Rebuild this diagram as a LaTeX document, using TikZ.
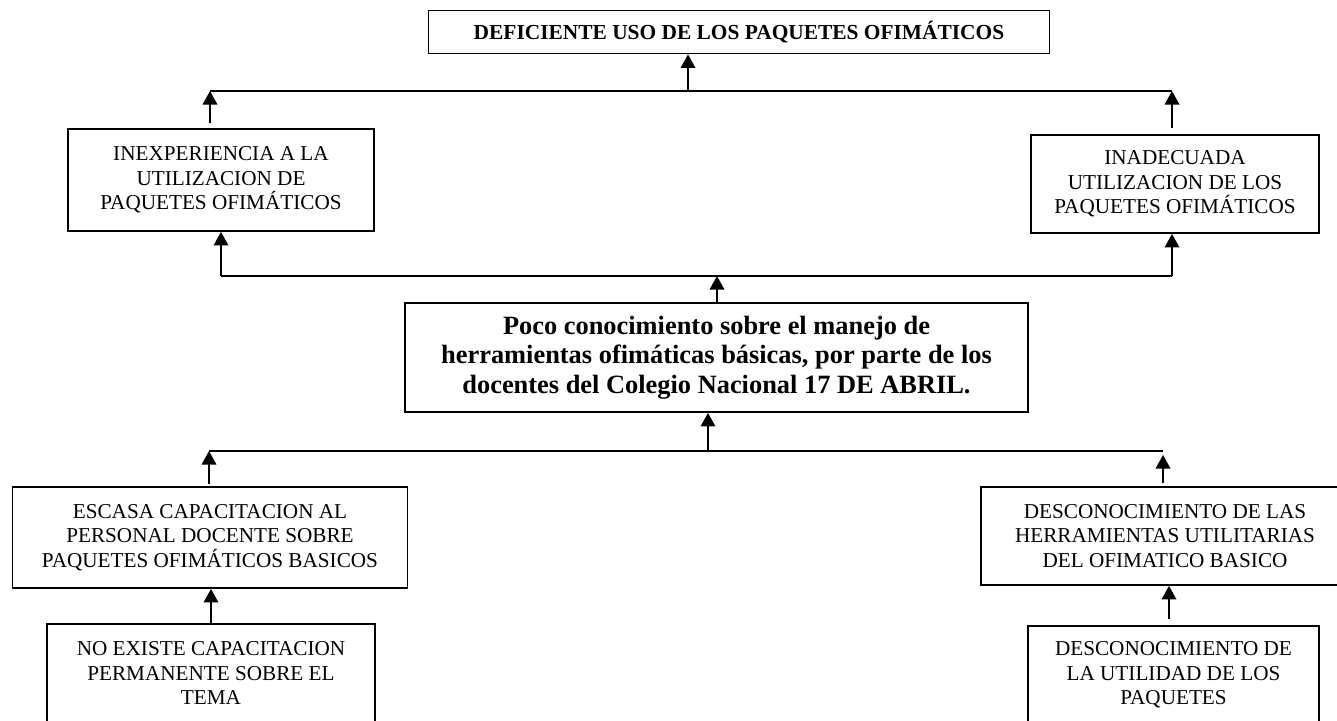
\documentclass[tikz,border=0pt]{standalone}
\usepackage{fontspec}
\setmainfont{Liberation Serif}
\usetikzlibrary{arrows.meta}
\tikzset{
  box/.style={draw, line width=1.8pt, inner sep=0pt, align=center, font=\fontsize{21.2}{24.5}\selectfont},
  boldtop/.style={font=\bfseries\fontsize{21.4}{24}\selectfont},
  boldmain/.style={font=\bfseries\fontsize{26.4}{29.5}\selectfont},
  arr/.style={line width=1.8pt, -{Triangle[width=14.5pt,length=13.5pt]}},
  bus/.style={line width=1.8pt}
}
\begin{document}
\begin{tikzpicture}[x=1pt,y=-1pt]
\clip (0,0) rectangle (1337,720);
\fill[white] (0,0) rectangle (1337,720);

% nodes
\node[box, boldtop, minimum width=621pt, minimum height=43pt] (T) at (739,32) {DEFICIENTE USO DE LOS PAQUETES OFIMÁTICOS};
\node[box, minimum width=306pt, minimum height=102pt] (inexp) at (221,180) {INEXPERIENCIA A LA\\UTILIZACION DE\\PAQUETES OFIMÁTICOS};
\node[box, minimum width=288pt, minimum height=98pt] (inad) at (1175,184) {INADECUADA\\UTILIZACION DE LOS\\PAQUETES OFIMÁTICOS};
\node[box, boldmain, minimum width=623pt, minimum height=109pt] (C) at (716.5,357.5) {Poco conocimiento sobre el manejo de\\herramientas ofimáticas básicas, por parte de los\\docentes del Colegio Nacional 17 DE ABRIL.};
\node[box, minimum width=395pt, minimum height=101pt] (esc) at (210,537.5) {ESCASA CAPACITACION AL\\PERSONAL DOCENTE SOBRE\\PAQUETES OFIMÁTICOS BASICOS};
\node[box, minimum width=368pt, minimum height=98pt] (desc1) at (1165,536) {DESCONOCIMIENTO DE LAS\\HERRAMIENTAS UTILITARIAS\\DEL OFIMATICO BASICO};
\node[box, minimum width=328pt, minimum height=98pt] (noex) at (211,673) {NO EXISTE CAPACITACION\\PERMANENTE SOBRE EL\\TEMA};
\node[box, minimum width=291pt, minimum height=98pt] (desc2) at (1173.5,675) {DESCONOCIMIENTO DE\\LA UTILIDAD DE LOS\\PAQUETES};

% bus coordinates
\coordinate (b1L) at (210,91);
\coordinate (b1R) at (1172,91);
\coordinate (b1T) at (688,91);
\coordinate (b2L) at (221,276);
\coordinate (b2R) at (1172,276);
\coordinate (b2C) at (717,276);
\coordinate (b3L) at (209,451);
\coordinate (b3R) at (1163,451);
\coordinate (b3C) at (708,451);
\coordinate (d2a) at (1169,620);

% connectors
\draw[bus] (b1L) -- (b1R);
\draw[arr] (b1T) -- (b1T |- T.south);
\draw[arr, shorten <=5pt] (b1L |- inexp.north) -- (b1L);
\draw[arr, shorten <=6pt] (b1R |- inad.north) -- (b1R);

\draw[bus] (b2L) -- (b2R);
\draw[arr] (b2L) -- (b2L |- inexp.south);
\draw[arr] (b2R) -- (b2R |- inad.south);
\draw[arr] (b2C |- C.north) -- (b2C);

\draw[bus] (b3L) -- (b3R);
\draw[arr] (b3C) -- (b3C |- C.south);
\draw[arr, shorten <=2pt] (b3L |- esc.north) -- (b3L);
\draw[arr, shorten <=3pt, shorten >=4pt] (b3R |- desc1.north) -- (b3R);

\draw[arr] (noex.north) -- (noex.north |- esc.south);
\draw[arr, shorten <=6pt] (d2a |- desc2.north) -- (d2a |- desc1.south);
\end{tikzpicture}
\end{document}
